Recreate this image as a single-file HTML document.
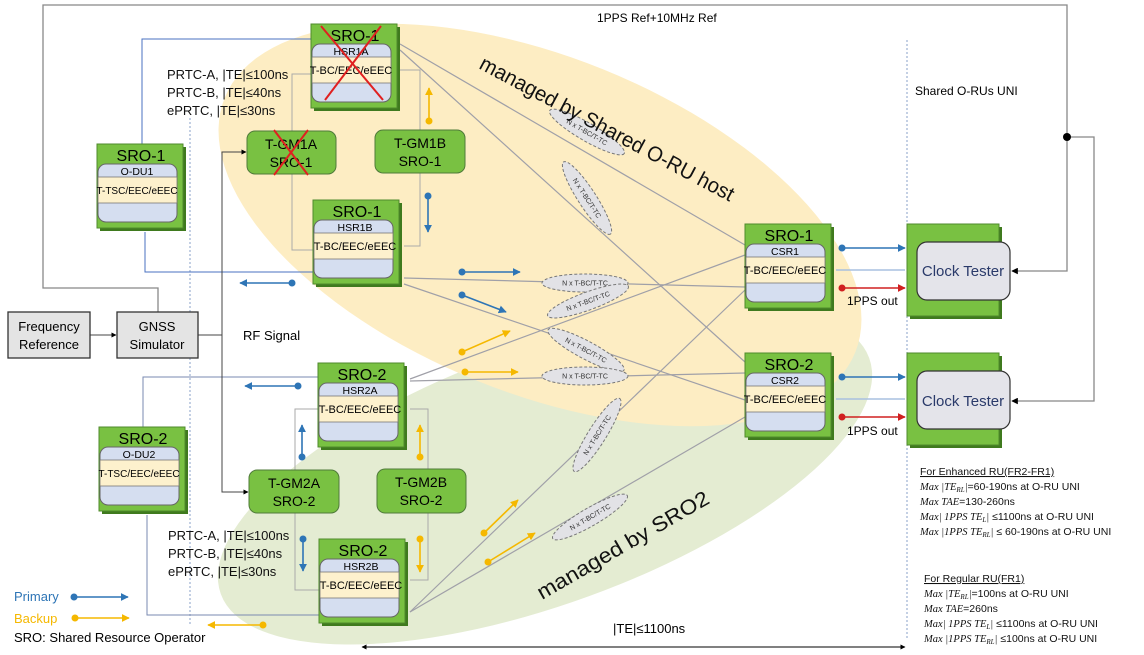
<!DOCTYPE html>
<html><head><meta charset="utf-8"><style>
html,body{margin:0;padding:0;background:#fff;width:1144px;height:655px;overflow:hidden}
svg{display:block;font-family:"Liberation Sans",sans-serif;overflow:hidden}
</style></head><body>
<svg width="1144" height="655" viewBox="0 0 1144 655" xmlns="http://www.w3.org/2000/svg">
<defs>
<clipPath id="cl"><rect x="0" y="0" width="1144" height="650"/></clipPath>
<marker id="ab" viewBox="0 0 10 10" refX="9" refY="5" markerWidth="5" markerHeight="5" orient="auto"><path d="M0,0L10,5L0,10z" fill="#2e75b6"/></marker>
<marker id="ao" viewBox="0 0 10 10" refX="9" refY="5" markerWidth="5" markerHeight="5" orient="auto"><path d="M0,0L10,5L0,10z" fill="#f5b800"/></marker>
<marker id="ar" viewBox="0 0 10 10" refX="9" refY="5" markerWidth="5" markerHeight="5" orient="auto"><path d="M0,0L10,5L0,10z" fill="#d02020"/></marker>
<marker id="ak" viewBox="0 0 10 10" refX="9" refY="5" markerWidth="5" markerHeight="5" orient="auto"><path d="M0,0L10,5L0,10z" fill="#000"/></marker>
<marker id="aks" viewBox="0 0 10 10" refX="1" refY="5" markerWidth="5" markerHeight="5" orient="auto"><path d="M10,0L0,5L10,10z" fill="#000"/></marker>
<g id="box">
<rect x="3" y="3" width="86" height="84" fill="#3f7a1e"/>
<rect x="0" y="0" width="86" height="84" fill="#79c142" stroke="#4f8a2c"/>
<rect x="1" y="20" width="79" height="58" rx="8" fill="#d5def0" stroke="#666"/>
<rect x="1" y="33" width="79" height="26" fill="#fdf1cd" stroke="#777" stroke-width="0.8"/>
</g>
<g id="ct">
<rect x="3" y="3" width="92" height="92" fill="#3f7a1e"/>
<rect x="0" y="0" width="92" height="92" fill="#79c142" stroke="#4f8a2c"/>
<rect x="10" y="18" width="93" height="58" rx="10" fill="#e4e4ea" stroke="#333" stroke-width="1.2"/>
</g>
<g id="nx"><ellipse cx="0" cy="0" rx="43" ry="9" fill="#e2e2e6" stroke="#777" stroke-dasharray="3,2"/><text x="0" y="2.5" font-size="7" text-anchor="middle" fill="#333">N x T-BC/T-TC</text></g>
</defs>

<g clip-path="url(#cl)">
<ellipse cx="545" cy="476" rx="345" ry="128" transform="rotate(-20 545 476)" fill="#e4ecd2"/>
<ellipse cx="540" cy="225" rx="340" ry="168" transform="rotate(22 540 225)" fill="#fdedc3"/>
</g>

<line x1="190" y1="118" x2="190" y2="625" stroke="#8aa0c8" stroke-dasharray="2,2"/>
<line x1="907" y1="40" x2="907" y2="640" stroke="#8aa0c8" stroke-dasharray="2,2"/>

<g fill="none" stroke="#888" stroke-width="1.3">
<polyline points="158,312 158,288 43,288 43,5 1067,5 1067,271 1012,271" marker-end="url(#ak)"/>
<polyline points="1067,137 1094,137 1094,401 1012,401" marker-end="url(#ak)"/>
</g>
<circle cx="1067" cy="137" r="4" fill="#000"/>
<text x="597" y="22" font-size="12">1PPS Ref+10MHz Ref</text>
<text x="915" y="95" font-size="12">Shared O-RUs UNI</text>

<g fill="none" stroke="#4a72c0" stroke-width="1">
<polyline points="311,39 142,39 142,144"/>
<polyline points="145,232 145,272 313,272"/>
</g>
<g fill="none" stroke="#7a8ab0" stroke-width="1">
<polyline points="318,377 143,377 143,427"/>
<polyline points="147,515 147,615 319,615"/>
</g>
<g fill="none" stroke="#444" stroke-width="1">
<polyline points="198,335 222,335 222,152 246,152" marker-end="url(#ak)"/>
<polyline points="222,335 222,492 248,492" marker-end="url(#ak)"/>
<line x1="90" y1="335" x2="116" y2="335" marker-end="url(#ak)"/>
</g>
<g fill="none" stroke="#aaa" stroke-width="1">
<polyline points="311,74 292,74 292,250 313,250"/>
<polyline points="400,70 420,70 420,246 404,246"/>
<polyline points="318,409 295,409 295,590 319,590"/>
<polyline points="410,409 428,409 428,580 410,580"/>
</g>
<g stroke="#a0a0a8" stroke-width="1.2" fill="none">
<line x1="400" y1="44" x2="745" y2="245"/>
<line x1="400" y1="50" x2="745" y2="362"/>
<line x1="404" y1="278" x2="745" y2="287"/>
<line x1="404" y1="284" x2="745" y2="400"/>
<line x1="410" y1="379" x2="745" y2="255"/>
<line x1="410" y1="381" x2="745" y2="373"/>
<line x1="410" y1="612" x2="745" y2="290"/>
<line x1="410" y1="612" x2="745" y2="417"/>
</g>
<use href="#nx" transform="translate(587,132) rotate(30)"/>
<use href="#nx" transform="translate(587,198) rotate(57)"/>
<use href="#nx" transform="translate(585,283)"/>
<use href="#nx" transform="translate(588,301) rotate(-20)"/>
<use href="#nx" transform="translate(586,350) rotate(28)"/>
<use href="#nx" transform="translate(585,376)"/>
<use href="#nx" transform="translate(597,435) rotate(-58)"/>
<use href="#nx" transform="translate(590,517) rotate(-30)"/>

<text font-size="21" fill="#111" textLength="285" lengthAdjust="spacingAndGlyphs" transform="translate(478,68) rotate(28)">managed by Shared O-RU host</text>
<text font-size="21" fill="#111" textLength="195" lengthAdjust="spacingAndGlyphs" transform="translate(542,600) rotate(-30)">managed by SRO2</text>

<g transform="translate(311,24)"><use href="#box"/><text x="44" y="17" font-size="16" text-anchor="middle">SRO-1</text><text x="40" y="31" font-size="10.5" text-anchor="middle">HSR1A</text><text x="40" y="50" font-size="11" text-anchor="middle">T-BC/EEC/eEEC</text>
<g stroke="#e02020" stroke-width="2"><line x1="10" y1="2" x2="72" y2="76"/><line x1="70" y1="2" x2="14" y2="76"/></g></g>
<g transform="translate(97,144)"><use href="#box"/><text x="44" y="17" font-size="16" text-anchor="middle">SRO-1</text><text x="40" y="31" font-size="10.5" text-anchor="middle">O-DU1</text><text x="40" y="50" font-size="10" text-anchor="middle">T-TSC/EEC/eEEC</text></g>
<g transform="translate(313,200)"><use href="#box"/><text x="44" y="17" font-size="16" text-anchor="middle">SRO-1</text><text x="42" y="31" font-size="10.5" text-anchor="middle">HSR1B</text><text x="42" y="50" font-size="11" text-anchor="middle">T-BC/EEC/eEEC</text></g>
<g transform="translate(745,224)"><use href="#box"/><text x="44" y="17" font-size="16" text-anchor="middle">SRO-1</text><text x="40" y="31" font-size="10.5" text-anchor="middle">CSR1</text><text x="40" y="50" font-size="11" text-anchor="middle">T-BC/EEC/eEEC</text></g>
<g transform="translate(745,353)"><use href="#box"/><text x="44" y="17" font-size="16" text-anchor="middle">SRO-2</text><text x="40" y="31" font-size="10.5" text-anchor="middle">CSR2</text><text x="40" y="50" font-size="11" text-anchor="middle">T-BC/EEC/eEEC</text></g>
<g transform="translate(318,363)"><use href="#box"/><text x="44" y="17" font-size="16" text-anchor="middle">SRO-2</text><text x="42" y="31" font-size="10.5" text-anchor="middle">HSR2A</text><text x="42" y="50" font-size="11" text-anchor="middle">T-BC/EEC/eEEC</text></g>
<g transform="translate(99,427)"><use href="#box"/><text x="44" y="17" font-size="16" text-anchor="middle">SRO-2</text><text x="40" y="31" font-size="10.5" text-anchor="middle">O-DU2</text><text x="40" y="50" font-size="10" text-anchor="middle">T-TSC/EEC/eEEC</text></g>
<g transform="translate(319,539)"><use href="#box"/><text x="44" y="17" font-size="16" text-anchor="middle">SRO-2</text><text x="42" y="31" font-size="10.5" text-anchor="middle">HSR2B</text><text x="42" y="50" font-size="11" text-anchor="middle">T-BC/EEC/eEEC</text></g>

<g font-size="14" text-anchor="middle">
<rect x="247" y="131" width="89" height="43" rx="8" fill="#79c142" stroke="#4f7a3a"/>
<text x="291" y="149">T-GM1A</text><text x="291" y="167">SRO-1</text>
<g stroke="#e02020" stroke-width="2"><line x1="274" y1="130" x2="308" y2="175"/><line x1="308" y1="130" x2="274" y2="175"/></g>
<rect x="375" y="130" width="90" height="43" rx="8" fill="#79c142" stroke="#4f7a3a"/>
<text x="420" y="148">T-GM1B</text><text x="420" y="166">SRO-1</text>
<rect x="249" y="470" width="90" height="43" rx="8" fill="#79c142" stroke="#4f7a3a"/>
<text x="294" y="488">T-GM2A</text><text x="294" y="506">SRO-2</text>
<rect x="377" y="469" width="89" height="44" rx="8" fill="#79c142" stroke="#4f7a3a"/>
<text x="421" y="487">T-GM2B</text><text x="421" y="505">SRO-2</text>
</g>

<g transform="translate(907,224)"><use href="#ct"/><text x="56" y="52" font-size="15" text-anchor="middle" fill="#2a3a6a">Clock Tester</text></g>
<g transform="translate(907,353)"><use href="#ct"/><text x="56" y="53" font-size="15" text-anchor="middle" fill="#2a3a6a">Clock Tester</text></g>

<rect x="8" y="312" width="82" height="46" fill="#e4e4e4" stroke="#333" stroke-width="1.3"/>
<text x="49" y="331" font-size="13" text-anchor="middle">Frequency</text><text x="49" y="349" font-size="13" text-anchor="middle">Reference</text>
<rect x="117" y="312" width="81" height="46" fill="#e4e4e4" stroke="#333" stroke-width="1.3"/>
<text x="157" y="331" font-size="13" text-anchor="middle">GNSS</text><text x="157" y="349" font-size="13" text-anchor="middle">Simulator</text>
<text x="243" y="340" font-size="13">RF Signal</text>

<g font-size="13" fill="#111">
<text x="167" y="79">PRTC-A, |TE|≤100ns</text><text x="167" y="97">PRTC-B, |TE|≤40ns</text><text x="167" y="115">ePRTC, |TE|≤30ns</text>
<text x="168" y="540">PRTC-A, |TE|≤100ns</text><text x="168" y="558">PRTC-B, |TE|≤40ns</text><text x="168" y="576">ePRTC, |TE|≤30ns</text>
</g>

<g stroke-width="1.6" fill="none">
<line x1="429" y1="121" x2="429" y2="88" stroke="#f5b800" marker-end="url(#ao)"/>
<line x1="428" y1="196" x2="428" y2="232" stroke="#2e75b6" marker-end="url(#ab)"/>
<line x1="292" y1="283" x2="240" y2="283" stroke="#2e75b6" marker-end="url(#ab)"/>
<line x1="462" y1="272" x2="520" y2="272" stroke="#2e75b6" marker-end="url(#ab)"/>
<line x1="462" y1="295" x2="506" y2="312" stroke="#2e75b6" marker-end="url(#ab)"/>
<line x1="462" y1="352" x2="510" y2="331" stroke="#f5b800" marker-end="url(#ao)"/>
<line x1="465" y1="372" x2="518" y2="372" stroke="#f5b800" marker-end="url(#ao)"/>
<line x1="298" y1="386" x2="245" y2="386" stroke="#2e75b6" marker-end="url(#ab)"/>
<line x1="302" y1="457" x2="302" y2="425" stroke="#2e75b6" marker-end="url(#ab)"/>
<line x1="420" y1="457" x2="420" y2="425" stroke="#f5b800" marker-end="url(#ao)"/>
<line x1="303" y1="539" x2="303" y2="571" stroke="#2e75b6" marker-end="url(#ab)"/>
<line x1="420" y1="539" x2="420" y2="572" stroke="#f5b800" marker-end="url(#ao)"/>
<line x1="484" y1="533" x2="518" y2="500" stroke="#f5b800" marker-end="url(#ao)"/>
<line x1="488" y1="562" x2="535" y2="533" stroke="#f5b800" marker-end="url(#ao)"/>
<line x1="263" y1="625" x2="208" y2="625" stroke="#f5b800" marker-end="url(#ao)"/>
<line x1="842" y1="248" x2="905" y2="248" stroke="#2e75b6" marker-end="url(#ab)"/>
<line x1="836" y1="270" x2="905" y2="270" stroke="#a8c0e0"/>
<line x1="842" y1="288" x2="905" y2="288" stroke="#d02020" marker-end="url(#ar)"/>
<line x1="842" y1="377" x2="905" y2="377" stroke="#2e75b6" marker-end="url(#ab)"/>
<line x1="836" y1="399" x2="905" y2="399" stroke="#a8c0e0"/>
<line x1="842" y1="417" x2="905" y2="417" stroke="#d02020" marker-end="url(#ar)"/>
<line x1="74" y1="597" x2="128" y2="597" stroke="#2e75b6" marker-end="url(#ab)"/>
<line x1="75" y1="618" x2="129" y2="618" stroke="#f5b800" marker-end="url(#ao)"/>
</g>
<g fill="#2e75b6">
<circle cx="428" cy="196" r="3.5"/><circle cx="292" cy="283" r="3.5"/><circle cx="462" cy="272" r="3.5"/><circle cx="462" cy="295" r="3.5"/>
<circle cx="298" cy="386" r="3.5"/><circle cx="302" cy="457" r="3.5"/><circle cx="303" cy="539" r="3.5"/><circle cx="842" cy="248" r="3.5"/><circle cx="842" cy="377" r="3.5"/><circle cx="74" cy="597" r="3.5"/>
</g>
<g fill="#f5b800">
<circle cx="429" cy="121" r="3.5"/><circle cx="462" cy="352" r="3.5"/><circle cx="465" cy="372" r="3.5"/><circle cx="420" cy="457" r="3.5"/><circle cx="420" cy="539" r="3.5"/>
<circle cx="484" cy="533" r="3.5"/><circle cx="488" cy="562" r="3.5"/><circle cx="263" cy="625" r="3.5"/><circle cx="75" cy="618" r="3.5"/>
</g>
<g fill="#d02020"><circle cx="842" cy="288" r="3.5"/><circle cx="842" cy="417" r="3.5"/></g>
<text x="847" y="305" font-size="12">1PPS out</text>
<text x="847" y="435" font-size="12">1PPS out</text>

<text x="14" y="601" font-size="13" fill="#2e75b6">Primary</text>
<text x="14" y="623" font-size="13" fill="#f5b800">Backup</text>
<text x="14" y="642" font-size="13">SRO: Shared Resource Operator</text>

<line x1="362" y1="647" x2="905" y2="647" stroke="#000" stroke-width="1" marker-start="url(#aks)" marker-end="url(#ak)"/>
<text x="613" y="633" font-size="13">|TE|≤1100ns</text>

<g font-size="10.5" fill="#111">
<text x="920" y="475" text-decoration="underline">For Enhanced RU(FR2-FR1)</text>
<text x="920" y="490"><tspan font-family="Liberation Serif" font-style="italic">Max |TE<tspan font-size="7" dy="2">RL</tspan><tspan dy="-2">|</tspan></tspan>=60-190ns at O-RU UNI</text>
<text x="920" y="505"><tspan font-family="Liberation Serif" font-style="italic">Max TAE</tspan>=130-260ns</text>
<text x="920" y="520"><tspan font-family="Liberation Serif" font-style="italic">Max| 1PPS TE<tspan font-size="7" dy="2">L</tspan><tspan dy="-2">|</tspan></tspan> ≤1100ns at O-RU UNI</text>
<text x="920" y="535"><tspan font-family="Liberation Serif" font-style="italic">Max |1PPS TE<tspan font-size="7" dy="2">RL</tspan><tspan dy="-2">|</tspan></tspan> ≤ 60-190ns at O-RU UNI</text>
<text x="924" y="582" text-decoration="underline">For Regular RU(FR1)</text>
<text x="924" y="597"><tspan font-family="Liberation Serif" font-style="italic">Max |TE<tspan font-size="7" dy="2">RL</tspan><tspan dy="-2">|</tspan></tspan>=100ns at O-RU UNI</text>
<text x="924" y="612"><tspan font-family="Liberation Serif" font-style="italic">Max TAE</tspan>=260ns</text>
<text x="924" y="627"><tspan font-family="Liberation Serif" font-style="italic">Max| 1PPS TE<tspan font-size="7" dy="2">L</tspan><tspan dy="-2">|</tspan></tspan> ≤1100ns at O-RU UNI</text>
<text x="924" y="642"><tspan font-family="Liberation Serif" font-style="italic">Max |1PPS TE<tspan font-size="7" dy="2">RL</tspan><tspan dy="-2">|</tspan></tspan> ≤100ns at O-RU UNI</text>
</g>
</svg>
</body></html>
